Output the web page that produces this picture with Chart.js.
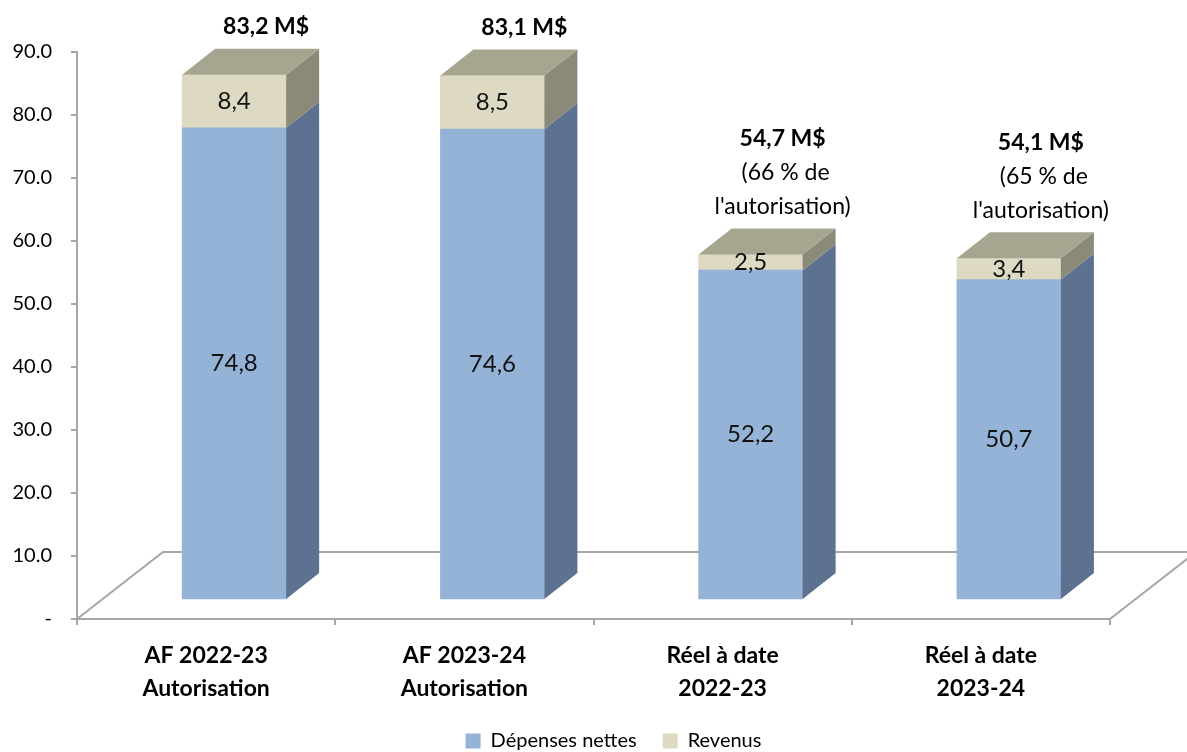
<!DOCTYPE html>
<html>
<head>
<meta charset="utf-8">
<script src="https://cdn.jsdelivr.net/npm/chart.js@4.4.1/dist/chart.umd.min.js"></script>
<style>
  html, body { margin: 0; padding: 0; background: #fff; }
</style>
</head>
<body>
<canvas id="myChart" width="1187" height="752"></canvas>
<script>
let categories = [['AF 2022-23', 'Autorisation'], ['AF 2023-24', 'Autorisation'], ['Réel à date', '2022-23'], ['Réel à date', '2023-24']];
let depenses = [74.8, 74.6, 52.2, 50.7];
let revenus = [8.4, 8.5, 2.5, 3.4];
let totals = ['83,2 M$', '83,1 M$', '54,7 M$', '54,1 M$'];
let notes = [[], [], [' (66 % de', "l'autorisation)"], [' (65 % de', "l'autorisation)"]];

const FONT = 'Lato, "Open Sans", sans-serif';
const BAR_DEPTH = {dx: 33, dy: -26};
const FLOOR_DEPTH = {dx: 86, dy: -67};
const AXIS_GREY = '#a6a6a6';

function fmt(v) { return v.toFixed(1).replace('.', ','); }

// floor + 3d faces + labels
const box3d = {
  id: 'box3d',
  afterLayout(chart) {
    // let the y tick labels spill into the left padding (no clipping)
    chart.scales.y.left = 0;
  },
  beforeDatasetsDraw(chart) {
    const ctx = chart.ctx, x = chart.scales.x, y = chart.scales.y;
    const y0 = y.getPixelForValue(0);
    ctx.save();
    ctx.strokeStyle = AXIS_GREY;
    ctx.lineWidth = 2;
    ctx.beginPath();
    ctx.moveTo(x.left, y0);
    ctx.lineTo(x.left + FLOOR_DEPTH.dx, y0 + FLOOR_DEPTH.dy);
    ctx.lineTo(x.right + FLOOR_DEPTH.dx, y0 + FLOOR_DEPTH.dy);
    ctx.moveTo(x.right, y0);
    ctx.lineTo(x.right + FLOOR_DEPTH.dx, y0 + FLOOR_DEPTH.dy);
    ctx.stroke();
    ctx.restore();
  },
  afterDatasetsDraw(chart) {
    const ctx = chart.ctx;
    const last = chart.data.datasets.length - 1;
    const {dx, dy} = BAR_DEPTH;
    ctx.save();
    chart.data.datasets.forEach((ds, di) => {
      const meta = chart.getDatasetMeta(di);
      meta.data.forEach((bar) => {
        const p = bar.getProps(['x', 'y', 'base', 'width'], true);
        const l = p.x - p.width / 2, r = p.x + p.width / 2;
        ctx.fillStyle = ds.sideColor;
        ctx.beginPath();
        ctx.moveTo(r, p.y);
        ctx.lineTo(r + dx, p.y + dy);
        ctx.lineTo(r + dx, p.base + dy);
        ctx.lineTo(r, p.base);
        ctx.closePath();
        ctx.fill();
        if (di === last) {
          ctx.fillStyle = ds.topColor;
          ctx.beginPath();
          ctx.moveTo(l, p.y);
          ctx.lineTo(l + dx, p.y + dy);
          ctx.lineTo(r + dx, p.y + dy);
          ctx.lineTo(r, p.y);
          ctx.closePath();
          ctx.fill();
        }
      });
    });

    // values inside the segments
    ctx.fillStyle = '#111';
    ctx.textAlign = 'center';
    ctx.textBaseline = 'middle';
    ctx.font = '24px ' + FONT;
    chart.data.datasets.forEach((ds, di) => {
      chart.getDatasetMeta(di).data.forEach((bar, i) => {
        const p = bar.getProps(['x', 'y', 'base'], true);
        ctx.fillText(fmt(ds.data[i].y), p.x, (p.y + p.base) / 2);
      });
    });

    // totals above the bars
    chart.getDatasetMeta(last).data.forEach((bar, i) => {
      const p = bar.getProps(['x', 'y'], true);
      const lines = [totals[i]].concat(notes[i]);
      lines.forEach((t, k) => {
        ctx.font = (k === 0 ? 'bold 23px ' : '23px ') + FONT;
        ctx.fillStyle = '#000';
        ctx.fillText(t, p.x + 32, p.y - 48 - (lines.length - 1 - k) * 34);
      });
    });
    ctx.restore();
  }
};

var ctx = document.getElementById('myChart').getContext('2d');
var myChart = new Chart(ctx, {
  type: 'bar',
  data: {
    labels: categories,
    datasets: [
      {
        label: 'Dépenses nettes',
        data: depenses.map((v, i) => ({x: i, y: v})),
        backgroundColor: '#95b3d7',
        sideColor: '#5d7290',
        xAxisID: 'xb',
        yAxisID: 'yb',
        barThickness: 104
      },
      {
        label: 'Revenus',
        data: revenus.map((v, i) => ({x: i, y: v})),
        backgroundColor: '#ddd9c3',
        sideColor: '#8b8a78',
        topColor: '#a6a590',
        xAxisID: 'xb',
        yAxisID: 'yb',
        barThickness: 104
      }
    ]
  },
  options: {
    responsive: false,
    animation: false,
    layout: {padding: {top: 52, right: 0, left: 40, bottom: -9}},
    scales: {
      x: {
        type: 'category',
        offset: true,
        grid: {drawOnChartArea: false, offset: true, tickLength: 6, color: AXIS_GREY, lineWidth: 2},
        border: {color: AXIS_GREY, width: 2},
        ticks: {font: {family: FONT, size: 23, weight: 'bold', lineHeight: 1.45}, color: '#000', padding: 14, maxRotation: 0},
        afterFit: s => { s.height = 86; }
      },
      y: {
        min: 0,
        max: 90,
        grid: {drawOnChartArea: false, tickLength: 6, color: AXIS_GREY, lineWidth: 2},
        border: {color: AXIS_GREY, width: 2},
        ticks: {
          stepSize: 10,
          callback: v => v === 0 ? '-' : v.toFixed(1),
          font: {family: FONT, size: 20},
          color: '#000',
          padding: 19
        },
        afterFit: s => { s.width = 37; }
      },
      yRight: {
        position: 'right',
        grid: {display: false},
        border: {display: false},
        ticks: {display: false},
        afterFit: s => { s.width = 77; }
      },
      xb: {type: 'linear', display: false, offset: false, min: -0.6085, max: 3.3915, stacked: true},
      yb: {display: false, min: -3.17, max: 86.83, stacked: true}
    },
    plugins: {
      legend: {
        position: 'bottom',
        labels: {boxWidth: 15, boxHeight: 15, font: {family: FONT, size: 20}, color: '#000', padding: 26}
      },
      tooltip: {enabled: false}
    }
  },
  plugins: [box3d]
});
</script>
</body>
</html>
